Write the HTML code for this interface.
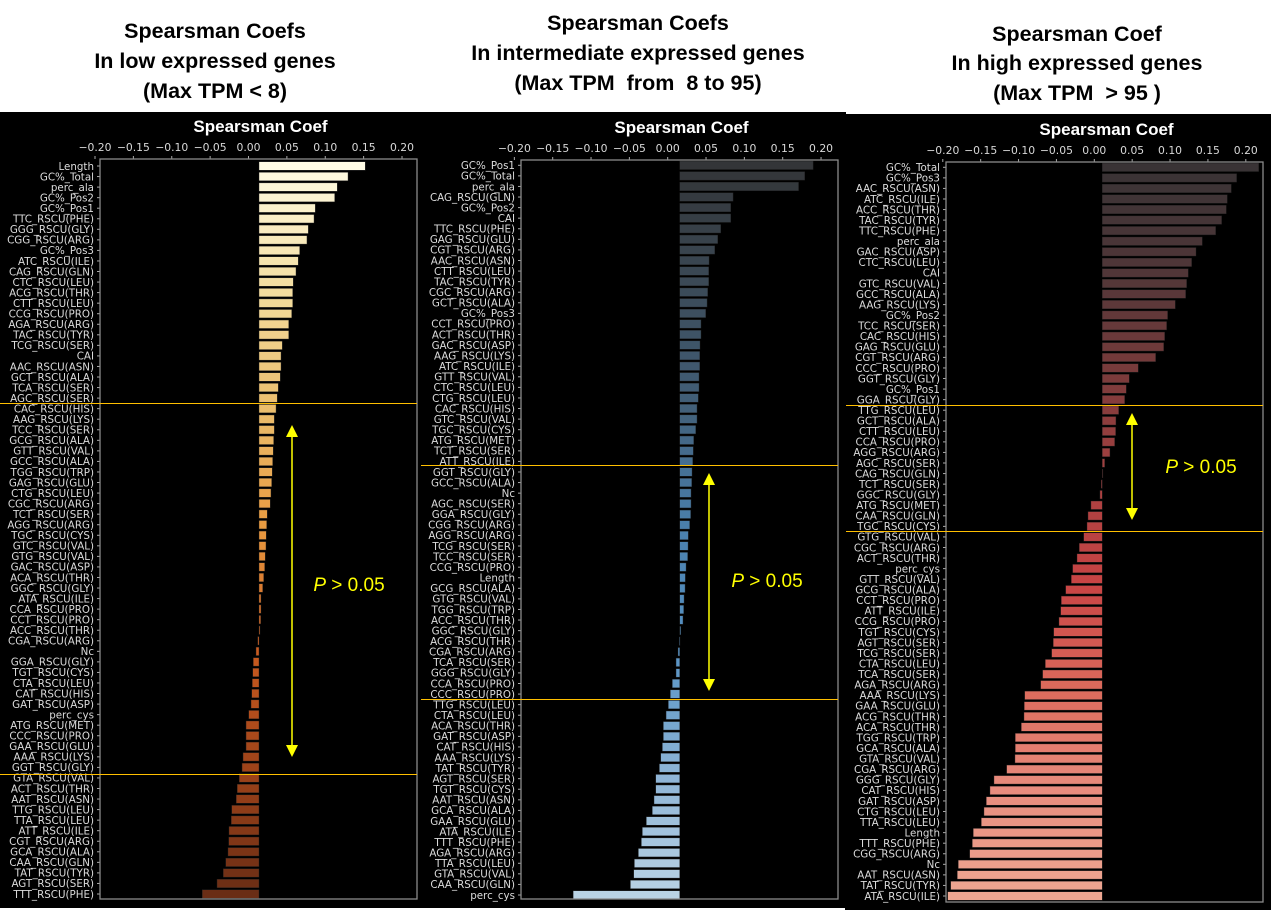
<!DOCTYPE html>
<html><head><meta charset="utf-8"><style>
html,body{margin:0;padding:0;background:#fff;width:1271px;height:911px;overflow:hidden}
svg{display:block}
</style></head><body>
<svg id="fig" width="1271" height="911" xmlns="http://www.w3.org/2000/svg">
<rect x="0" y="0" width="1271" height="911" fill="#fff"/>
<rect x="0" y="112" width="846" height="796" fill="#000"/>
<rect x="845" y="114" width="426" height="796" fill="#000"/>
<g font-family="Liberation Sans, sans-serif" font-weight="bold" font-size="21.5" fill="#000" text-anchor="middle">
<text x="215"><tspan x="215" y="38">Spearsman Coefs</tspan><tspan x="215" y="68">In low expressed genes</tspan><tspan x="215" y="98">(Max TPM &lt; 8)</tspan></text>
<text x="638"><tspan x="638" y="30">Spearsman Coefs</tspan><tspan x="638" y="60">In intermediate expressed genes</tspan><tspan x="638" y="90" xml:space="preserve">(Max TPM  from  8 to 95)</tspan></text>
<text x="1077"><tspan x="1077" y="41">Spearsman Coef</tspan><tspan x="1077" y="70">In high expressed genes</tspan><tspan x="1077" y="100" xml:space="preserve">(Max TPM  &gt; 95 )</tspan></text>
</g>
<g id="charts"></g>
</svg>
<script>
const ticks = [-0.20,-0.15,-0.10,-0.05,0.00,0.05,0.10,0.15,0.20];
const tickLabels = ["\u22120.20","\u22120.15","\u22120.10","\u22120.05","0.00","0.05","0.10","0.15","0.20"];

const labels1 = ["Length","GC%_Total","perc_ala","GC%_Pos2","GC%_Pos1","TTC_RSCU(PHE)","GGG_RSCU(GLY)","CGG_RSCU(ARG)","GC%_Pos3","ATC_RSCU(ILE)","CAG_RSCU(GLN)","CTC_RSCU(LEU)","ACG_RSCU(THR)","CTT_RSCU(LEU)","CCG_RSCU(PRO)","AGA_RSCU(ARG)","TAC_RSCU(TYR)","TCG_RSCU(SER)","CAI","AAC_RSCU(ASN)","GCT_RSCU(ALA)","TCA_RSCU(SER)","AGC_RSCU(SER)","CAC_RSCU(HIS)","AAG_RSCU(LYS)","TCC_RSCU(SER)","GCG_RSCU(ALA)","GTT_RSCU(VAL)","GCC_RSCU(ALA)","TGG_RSCU(TRP)","GAG_RSCU(GLU)","CTG_RSCU(LEU)","CGC_RSCU(ARG)","TCT_RSCU(SER)","AGG_RSCU(ARG)","TGC_RSCU(CYS)","GTC_RSCU(VAL)","GTG_RSCU(VAL)","GAC_RSCU(ASP)","ACA_RSCU(THR)","GGC_RSCU(GLY)","ATA_RSCU(ILE)","CCA_RSCU(PRO)","CCT_RSCU(PRO)","ACC_RSCU(THR)","CGA_RSCU(ARG)","Nc","GGA_RSCU(GLY)","TGT_RSCU(CYS)","CTA_RSCU(LEU)","CAT_RSCU(HIS)","GAT_RSCU(ASP)","perc_cys","ATG_RSCU(MET)","CCC_RSCU(PRO)","GAA_RSCU(GLU)","AAA_RSCU(LYS)","GGT_RSCU(GLY)","GTA_RSCU(VAL)","ACT_RSCU(THR)","AAT_RSCU(ASN)","TTG_RSCU(LEU)","TTA_RSCU(LEU)","ATT_RSCU(ILE)","CGT_RSCU(ARG)","GCA_RSCU(ALA)","CAA_RSCU(GLN)","TAT_RSCU(TYR)","AGT_RSCU(SER)","TTT_RSCU(PHE)"];
const values1 = [0.1385,0.116,0.102,0.0986,0.0734,0.0717,0.0643,0.0625,0.053,0.0512,0.0482,0.0447,0.0439,0.0439,0.0426,0.0387,0.0387,0.0304,0.0287,0.0287,0.0278,0.0252,0.0238,0.0222,0.02,0.02,0.0191,0.0186,0.0178,0.0173,0.0165,0.0156,0.0147,0.0108,0.01,0.0095,0.0091,0.0082,0.0074,0.0061,0.0048,0.0026,0.0026,0.0022,0.0013,-0.0017,-0.0039,-0.0074,-0.0082,-0.0087,-0.0095,-0.0104,-0.0134,-0.0169,-0.0169,-0.0169,-0.0208,-0.0221,-0.0257,-0.0283,-0.0296,-0.0356,-0.0361,-0.0391,-0.0395,-0.0404,-0.0434,-0.0465,-0.0547,-0.0739];

const labels2 = ["GC%_Pos1","GC%_Total","perc_ala","CAG_RSCU(GLN)","GC%_Pos2","CAI","TTC_RSCU(PHE)","GAG_RSCU(GLU)","CGT_RSCU(ARG)","AAC_RSCU(ASN)","CTT_RSCU(LEU)","TAC_RSCU(TYR)","CGC_RSCU(ARG)","GCT_RSCU(ALA)","GC%_Pos3","CCT_RSCU(PRO)","ACT_RSCU(THR)","GAC_RSCU(ASP)","AAG_RSCU(LYS)","ATC_RSCU(ILE)","GTT_RSCU(VAL)","CTC_RSCU(LEU)","CTG_RSCU(LEU)","CAC_RSCU(HIS)","GTC_RSCU(VAL)","TGC_RSCU(CYS)","ATG_RSCU(MET)","TCT_RSCU(SER)","ATT_RSCU(ILE)","GGT_RSCU(GLY)","GCC_RSCU(ALA)","Nc","AGC_RSCU(SER)","GGA_RSCU(GLY)","CGG_RSCU(ARG)","AGG_RSCU(ARG)","TCG_RSCU(SER)","TCC_RSCU(SER)","CCG_RSCU(PRO)","Length","GCG_RSCU(ALA)","GTG_RSCU(VAL)","TGG_RSCU(TRP)","ACC_RSCU(THR)","GGC_RSCU(GLY)","ACG_RSCU(THR)","CGA_RSCU(ARG)","TCA_RSCU(SER)","GGG_RSCU(GLY)","CCA_RSCU(PRO)","CCC_RSCU(PRO)","TTG_RSCU(LEU)","CTA_RSCU(LEU)","ACA_RSCU(THR)","GAT_RSCU(ASP)","CAT_RSCU(HIS)","AAA_RSCU(LYS)","TAT_RSCU(TYR)","AGT_RSCU(SER)","TGT_RSCU(CYS)","AAT_RSCU(ASN)","GCA_RSCU(ALA)","GAA_RSCU(GLU)","ATA_RSCU(ILE)","TTT_RSCU(PHE)","AGA_RSCU(ARG)","TTA_RSCU(LEU)","GTA_RSCU(VAL)","CAA_RSCU(GLN)","perc_cys"];
const values2 = [0.174,0.163,0.155,0.0696,0.0665,0.0665,0.0535,0.0496,0.0457,0.0383,0.0378,0.0378,0.0365,0.0357,0.0339,0.0278,0.0278,0.0265,0.0261,0.0261,0.0252,0.0252,0.0243,0.0226,0.0226,0.0209,0.0183,0.0178,0.017,0.0161,0.0157,0.0148,0.0148,0.0143,0.013,0.0113,0.0109,0.0104,0.0083,0.0074,0.007,0.0057,0.0052,0.0043,0.0013,-0.0004,-0.0022,-0.0048,-0.0048,-0.0096,-0.0122,-0.0148,-0.0178,-0.0213,-0.0213,-0.0226,-0.0248,-0.0265,-0.0313,-0.0313,-0.0335,-0.0357,-0.0435,-0.0487,-0.05,-0.0539,-0.0591,-0.06,-0.0643,-0.139];

const labels3 = ["GC%_Total","GC%_Pos3","AAC_RSCU(ASN)","ATC_RSCU(ILE)","ACC_RSCU(THR)","TAC_RSCU(TYR)","TTC_RSCU(PHE)","perc_ala","GAC_RSCU(ASP)","CTC_RSCU(LEU)","CAI","GTC_RSCU(VAL)","GCC_RSCU(ALA)","AAG_RSCU(LYS)","GC%_Pos2","TCC_RSCU(SER)","CAC_RSCU(HIS)","GAG_RSCU(GLU)","CGT_RSCU(ARG)","CCC_RSCU(PRO)","GGT_RSCU(GLY)","GC%_Pos1","GGA_RSCU(GLY)","TTG_RSCU(LEU)","GCT_RSCU(ALA)","CTT_RSCU(LEU)","CCA_RSCU(PRO)","AGG_RSCU(ARG)","AGC_RSCU(SER)","CAG_RSCU(GLN)","TCT_RSCU(SER)","GGC_RSCU(GLY)","ATG_RSCU(MET)","CAA_RSCU(GLN)","TGC_RSCU(CYS)","GTG_RSCU(VAL)","CGC_RSCU(ARG)","ACT_RSCU(THR)","perc_cys","GTT_RSCU(VAL)","GCG_RSCU(ALA)","CCT_RSCU(PRO)","ATT_RSCU(ILE)","CCG_RSCU(PRO)","TGT_RSCU(CYS)","AGT_RSCU(SER)","TCG_RSCU(SER)","CTA_RSCU(LEU)","TCA_RSCU(SER)","AGA_RSCU(ARG)","AAA_RSCU(LYS)","GAA_RSCU(GLU)","ACG_RSCU(THR)","ACA_RSCU(THR)","TGG_RSCU(TRP)","GCA_RSCU(ALA)","GTA_RSCU(VAL)","CGA_RSCU(ARG)","GGG_RSCU(GLY)","CAT_RSCU(HIS)","GAT_RSCU(ASP)","CTG_RSCU(LEU)","TTA_RSCU(LEU)","Length","TTT_RSCU(PHE)","CGG_RSCU(ARG)","Nc","AAT_RSCU(ASN)","TAT_RSCU(TYR)","ATA_RSCU(ILE)"];
const values3 = [0.2064,0.1773,0.1703,0.165,0.1637,0.1575,0.1496,0.132,0.1237,0.1179,0.1135,0.1113,0.11,0.0964,0.0862,0.0849,0.0823,0.081,0.0704,0.0475,0.0356,0.0317,0.0295,0.0216,0.018,0.0176,0.0163,0.0101,0.0031,0.0002,-0.0013,-0.0031,-0.015,-0.0189,-0.0202,-0.0246,-0.0304,-0.0334,-0.0392,-0.0409,-0.0484,-0.0541,-0.055,-0.0572,-0.0642,-0.0647,-0.0669,-0.0752,-0.0788,-0.0814,-0.1025,-0.103,-0.1034,-0.1069,-0.1149,-0.1149,-0.1153,-0.1263,-0.143,-0.1483,-0.1531,-0.1562,-0.1597,-0.1703,-0.1716,-0.1751,-0.1901,-0.1914,-0.2002,-0.2042];

const NS = "http://www.w3.org/2000/svg";
function mk(tag, attrs, parent){ const e=document.createElementNS(NS,tag); for(const k in attrs) e.setAttribute(k,attrs[k]); parent.appendChild(e); return e; }
function hex(c){return [parseInt(c.slice(1,3),16),parseInt(c.slice(3,5),16),parseInt(c.slice(5,7),16)];}
function grad(stops,t){ const n=stops.length-1; const p=Math.min(n-1e-9,Math.max(0,t*n)); const i=Math.floor(p), f=p-i; const a=hex(stops[i]), b=hex(stops[i+1]); return "rgb("+a.map((v,k)=>Math.round(v+(b[k]-v)*f)).join(",")+")"; }

const panels = [
 {key:"low", labels:labels1, values:values1, left:100, right:417, top:159, bottom:899, zero:259, scale:767.5, shift:-10.5, y0:166, y1:894,
  colors:["#fffbe4","#f3dda0","#ebbd6c","#e8993f","#c95a1f","#9c4219","#6a2d15"], lines:[403.5,774.5], arrow:[292,425,757], ptext:[349,591]},
 {key:"mid", labels:labels2, values:values2, left:521, right:838, top:160, bottom:899, zero:679.7, scale:766.7, shift:-12, y0:165.3, y1:895,
  colors:["#333538","#3b4a57","#42607a","#4a80ad","#5692c4","#8db4d6","#b9d2e4"], lines:[465.5,699.5], arrow:[709,473,691], ptext:[767,587]},
 {key:"high", labels:labels3, values:values3, left:946, right:1263, top:162, bottom:902, zero:1102.3, scale:757.5, shift:-8, y0:167.3, y1:896,
  colors:["#393335","#503638","#7a3b3b","#a84040","#c84444","#db6a5c","#e88d7e","#eea792"], lines:[405.5,531.5], arrow:[1132,413,520], ptext:[1201,473]}
];

const root = document.getElementById("charts");
panels.forEach(P=>{
  const g = mk("g",{},root);
  
  
  const xS = v => P.zero + v*P.scale;
  const n = P.labels.length;
  const yS = i => P.y0 + i*(P.y1-P.y0)/(n-1);
  const bh = (P.y1-P.y0)/(n-1)*0.8;
  const cx = (P.left+P.right)/2;
  const title = mk("text",{x:cx+2,y:P.top-27,"text-anchor":"middle","font-family":"Liberation Sans, sans-serif","font-weight":"bold","font-size":"17",fill:"#fff"},g);
  title.textContent="Spearsman Coef";
  
  
  ticks.forEach((t,k)=>{
    const x = xS(t)+P.shift;
    const tm = mk("line",{x1:x,x2:x,y1:P.top,y2:P.top-3,stroke:"#aaa","stroke-width":"1"},g);
    
    
    const tl = mk("text",{x:x,y:P.top-8,"text-anchor":"middle","font-family":"DejaVu Sans, sans-serif","font-size":"10.8",fill:"#d8d8d8"},g);
    tl.textContent = tickLabels[k];
    
    
  });
  P.values.forEach((v,i)=>{
    const y = yS(i);
    const x1 = xS(v);
    const r = mk("rect",{x:Math.min(P.zero,x1),y:y-bh/2,width:Math.max(0.6,Math.abs(x1-P.zero)),height:bh,fill:grad(P.colors,i/(n-1)),stroke:"#222","stroke-width":"0.4"},g);
    
    
    const l = mk("text",{x:P.left-6,y:y+3.8,"text-anchor":"end","font-family":"DejaVu Sans, sans-serif","font-size":"10.3",fill:"#dcdcdc"},g);
    l.textContent = P.labels[i];
    
    
    const tk = mk("line",{x1:P.left-3,x2:P.left,y1:y,y2:y,stroke:"#aaa","stroke-width":"1"},g);
    
    
  });
  const fr = mk("rect",{x:P.left,y:P.top,width:P.right-P.left,height:P.bottom-P.top,fill:"none",stroke:"#8a8a8a","stroke-width":"1.3"},g);
  
  
  P.lines.forEach(ly=>{
    const ln = mk("line",{x1:P.left-100,x2:P.right,y1:ly,y2:ly,stroke:"#ffbf00","stroke-width":"1"},g);
    
    
  });
  const [ax,ay1,ay2]=P.arrow;
  const al = mk("line",{x1:ax,x2:ax,y1:ay1+10,y2:ay2-10,stroke:"#ffff00","stroke-width":"1.5"},g);
  
  
  const h1 = mk("polygon",{points:`${ax},${ay1} ${ax-6},${ay1+12} ${ax+6},${ay1+12}`,fill:"#ffff00"},g);
  
  
  const h2 = mk("polygon",{points:`${ax},${ay2} ${ax-6},${ay2-12} ${ax+6},${ay2-12}`,fill:"#ffff00"},g);
  
  
  const pt = mk("text",{x:P.ptext[0],y:P.ptext[1],"text-anchor":"middle","font-family":"Liberation Sans, sans-serif","font-size":"19",fill:"#ffff00"},g);
  pt.innerHTML = '<tspan font-style="italic">P</tspan> &gt; 0.05';
  
  
});
</script>
</body></html>
